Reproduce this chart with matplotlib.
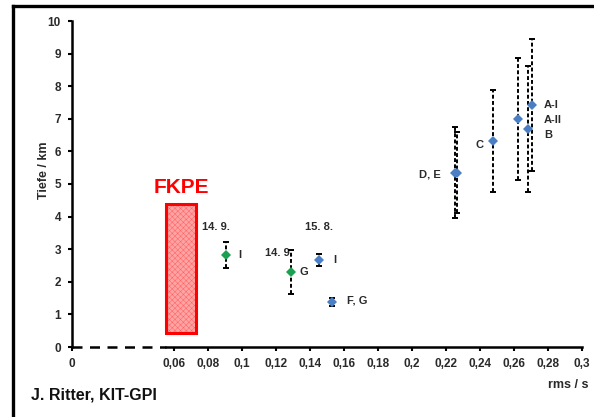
import matplotlib
matplotlib.use("Agg")
import matplotlib.pyplot as plt
from matplotlib.patches import Rectangle
from matplotlib.lines import Line2D

plt.rcParams['font.family'] = ['Liberation Sans', 'DejaVu Sans']
plt.rcParams['hatch.linewidth'] = 0.35

# --- data ---
green_x = [0.0906, 0.129]
green_y = [2.83, 2.30]
green_err = [0.40, 0.68]
green_labels = ["I", "G"]
green_dates = ["14. 9.", "14. 9."]

blue_x = [0.1453, 0.153, 0.2255, 0.2262, 0.2476, 0.2624, 0.2684, 0.2706]
blue_y = [2.67, 1.37, 5.35, 5.35, 6.32, 6.99, 6.68, 7.42]
blue_err = [0.17, 0.12, 1.40, 1.25, 1.56, 1.87, 1.93, 2.03]

fkpe_x = [0.0553, 0.0729]
fkpe_y = [0.43, 4.39]

xticks = [0, 0.06, 0.08, 0.1, 0.12, 0.14, 0.16, 0.18, 0.2, 0.22, 0.24, 0.26, 0.28, 0.3]
xticklabels = ["0", "0,06", "0,08", "0,1", "0,12", "0,14", "0,16", "0,18", "0,2",
               "0,22", "0,24", "0,26", "0,28", "0,3"]
yticks = list(range(0, 11))

fig = plt.figure(figsize=(5.94, 4.17), dpi=100)
ax = fig.add_axes([72/594, 1-347/417, (582-72)/594, (347-21)/417])
ax.set_xlim(0, 0.3)
ax.set_ylim(0, 10)

for s in ['top', 'right']:
    ax.spines[s].set_visible(False)
ax.spines['left'].set_linewidth(1.8)
ax.spines['bottom'].set_linewidth(1.8)
ax.spines['bottom'].set_bounds(0.055, 0.3)
ax.plot([0, 0.055], [0, 0], color='black', lw=1.8, ls=(0, (4, 3)), clip_on=False, zorder=3)

ax.set_xticks(xticks)
ax.set_xticklabels(xticklabels)
ax.set_yticks(yticks)
ax.tick_params(axis='both', direction='out', length=3, width=1.5, labelsize=8.5, pad=5)
for lab in ax.get_xticklabels() + ax.get_yticklabels():
    lab.set_fontweight('bold')
    lab.set_color('#2a2a2a')

# FKPE box
rect = Rectangle((fkpe_x[0], fkpe_y[0]), fkpe_x[1]-fkpe_x[0], fkpe_y[1]-fkpe_y[0],
                 facecolor='#ffa4a4', edgecolor='#ff6060', hatch='xxxxxx', lw=0, zorder=2)
ax.add_patch(rect)
rect2 = Rectangle((fkpe_x[0], fkpe_y[0]), fkpe_x[1]-fkpe_x[0], fkpe_y[1]-fkpe_y[0],
                  facecolor='none', edgecolor='red', lw=2.2, zorder=3)
ax.add_patch(rect2)
ax.text((fkpe_x[0]+fkpe_x[1])/2, fkpe_y[1]+0.2, "FKPE", color='red', fontsize=15,
        fontweight='bold', ha='center', va='bottom')

def draw(xs, ys, errs, color):
    eb = ax.errorbar(xs, ys, yerr=errs, fmt='none', ecolor='black', elinewidth=1.4,
                     capsize=2.5, capthick=1.4, zorder=4)
    eb[2][0].set_linestyle((0, (2, 1.2)))
    ax.plot(xs, ys, 'D', color=color, markersize=5.5, zorder=5, markeredgewidth=0)

draw(green_x, green_y, green_err, '#1aa050')
draw(blue_x, blue_y, blue_err, '#4a7fc4')

def lab(i, xs, ys, text, dx, dy, ha='left'):
    ax.annotate(text, (xs[i], ys[i]), xytext=(dx, -dy), textcoords='offset pixels',
                fontsize=8, fontweight='bold', ha=ha, va='center', color='#2a2a2a')

# green labels
lab(0, green_x, green_y, green_labels[0], 12, 0)
lab(0, green_x, green_y, green_dates[0], -10, -28, ha='center')
lab(1, green_x, green_y, green_labels[1], 8, 0)
lab(1, green_x, green_y, green_dates[1], -12, -19, ha='center')
# blue labels
lab(0, blue_x, blue_y, "I", 14, 0)
lab(0, blue_x, blue_y, "15. 8.", 0, -33, ha='center')
lab(1, blue_x, blue_y, "F, G", 15, -2)
lab(2, blue_x, blue_y, "D, E", -15, 2, ha='right')
lab(4, blue_x, blue_y, "C", -9, 4, ha='right')
lab(7, blue_x, blue_y, "A-I", 12, 0)
lab(5, blue_x, blue_y, "A-II", 26, 1)
lab(6, blue_x, blue_y, "B", 16, 6)

fig.text(44/594, 1-170/417, "Tiefe / km", rotation=90, fontsize=9, fontweight='bold',
         ha='center', va='center', color='#2a2a2a')
fig.text(589/594, 1-385/417, "rms / s", fontsize=9, fontweight='bold',
         ha='right', va='center', color='#2a2a2a')
fig.text(31/594, 1-395/417, "J. Ritter, KIT-GPI", fontsize=11.5, fontweight='bold',
         ha='left', va='center', color='#111111')

# outer frame
fig.add_artist(Line2D([13/594, 13/594], [0, 1-6/417], color='black', lw=2.4,
                      transform=fig.transFigure))
fig.add_artist(Line2D([13/594, 1], [1-6/417, 1-6/417], color='black', lw=2.4,
                      transform=fig.transFigure))

fig.savefig("out.png", dpi=100)
